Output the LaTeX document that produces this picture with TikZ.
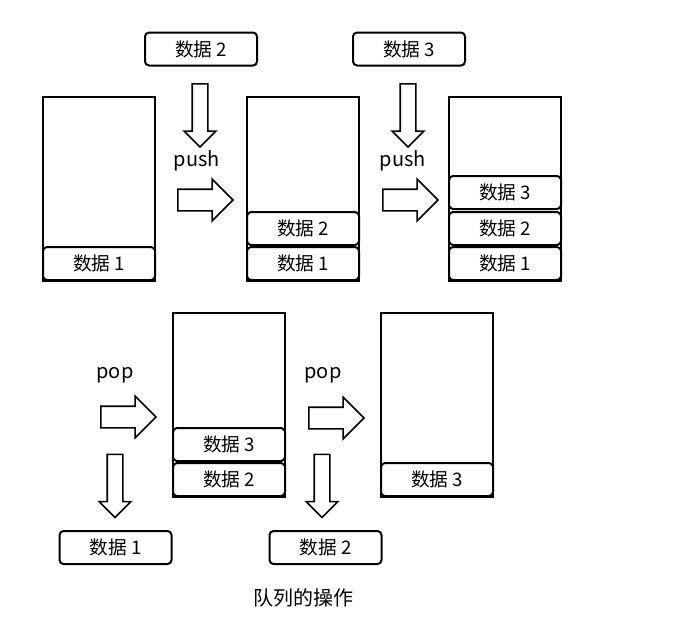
\documentclass[tikz,border=0pt]{standalone}
\usepackage{fontspec}
\setmainfont{Noto Sans CJK SC}
\usetikzlibrary{shapes.arrows}
\tikzset{
  stack/.style={draw, line width=1.5pt, minimum width=84pt, minimum height=138pt, inner sep=0pt},
  cell/.style={draw, line width=1.5pt, rounded corners=3pt, minimum width=84pt, minimum height=24.75pt, inner sep=0pt, font=\fontsize{14}{16}\selectfont},
  fatarrow/.style={draw, line width=1.2pt, single arrow, single arrow head extend=7.5pt, inner xsep=0pt, inner ysep=7.5pt, minimum height=41.25pt},
  droparrow/.style={draw, line width=1.2pt, single arrow, rotate=-90, single arrow head extend=6pt, inner xsep=0pt, inner ysep=5.25pt, minimum height=47.25pt},
  oplabel/.style={font=\fontsize{15}{17}\selectfont}
}
\begin{document}
\begin{tikzpicture}[x=0.75pt, y=-0.75pt]
\useasboundingbox (0,0) rectangle (681,643);
% push: stack 1 -> stack 2 -> stack 3
\node[stack] (s1) at (99,189) {};
\node[cell] (s1a) at (99,263.5) {数据 1};

\node[cell] (in2) at (201,49) {数据 2};
\node[droparrow] (d2) at (200,111.5) {};
\node[oplabel] (push1) at (197,161) {push};
\node[fatarrow] (r1) at (200,200) {};

\node[stack] (s2) at (303,189) {};
\node[cell] (s2a) at (303,263.5) {数据 1};
\node[cell] (s2b) at (303,228.5) {数据 2};

\node[cell] (in3) at (409,49) {数据 3};
\node[droparrow] (d3) at (408,111.5) {};
\node[oplabel] (push2) at (403,161) {push};
\node[fatarrow] (r2) at (405,200) {};

\node[stack] (s3) at (505,189) {};
\node[cell] (s3a) at (505,263.5) {数据 1};
\node[cell] (s3b) at (505,228.5) {数据 2};
\node[cell] (s3c) at (505,192.5) {数据 3};

% pop: stack 4 -> stack 5
\node[oplabel] (pop1) at (115,375) {pop};
\node[fatarrow] (r3) at (123,417) {};
\node[droparrow] (d1) at (115,482) {};
\node[cell] (out1) at (115.5,547.5) {数据 1};

\node[stack] (s4) at (229,405) {};
\node[cell] (s4a) at (229,479.5) {数据 2};
\node[cell] (s4b) at (229,444.5) {数据 3};

\node[oplabel] (pop2) at (323,375) {pop};
\node[fatarrow] (r4) at (331,418) {};
\node[droparrow] (d4) at (322,482) {};
\node[cell] (out2) at (325.5,547.5) {数据 2};

\node[stack] (s5) at (437,405) {};
\node[cell] (s5a) at (437,479.5) {数据 3};

\node[font=\fontsize{15}{17}\selectfont] (title) at (303,598) {队列的操作};
\end{tikzpicture}
\end{document}
